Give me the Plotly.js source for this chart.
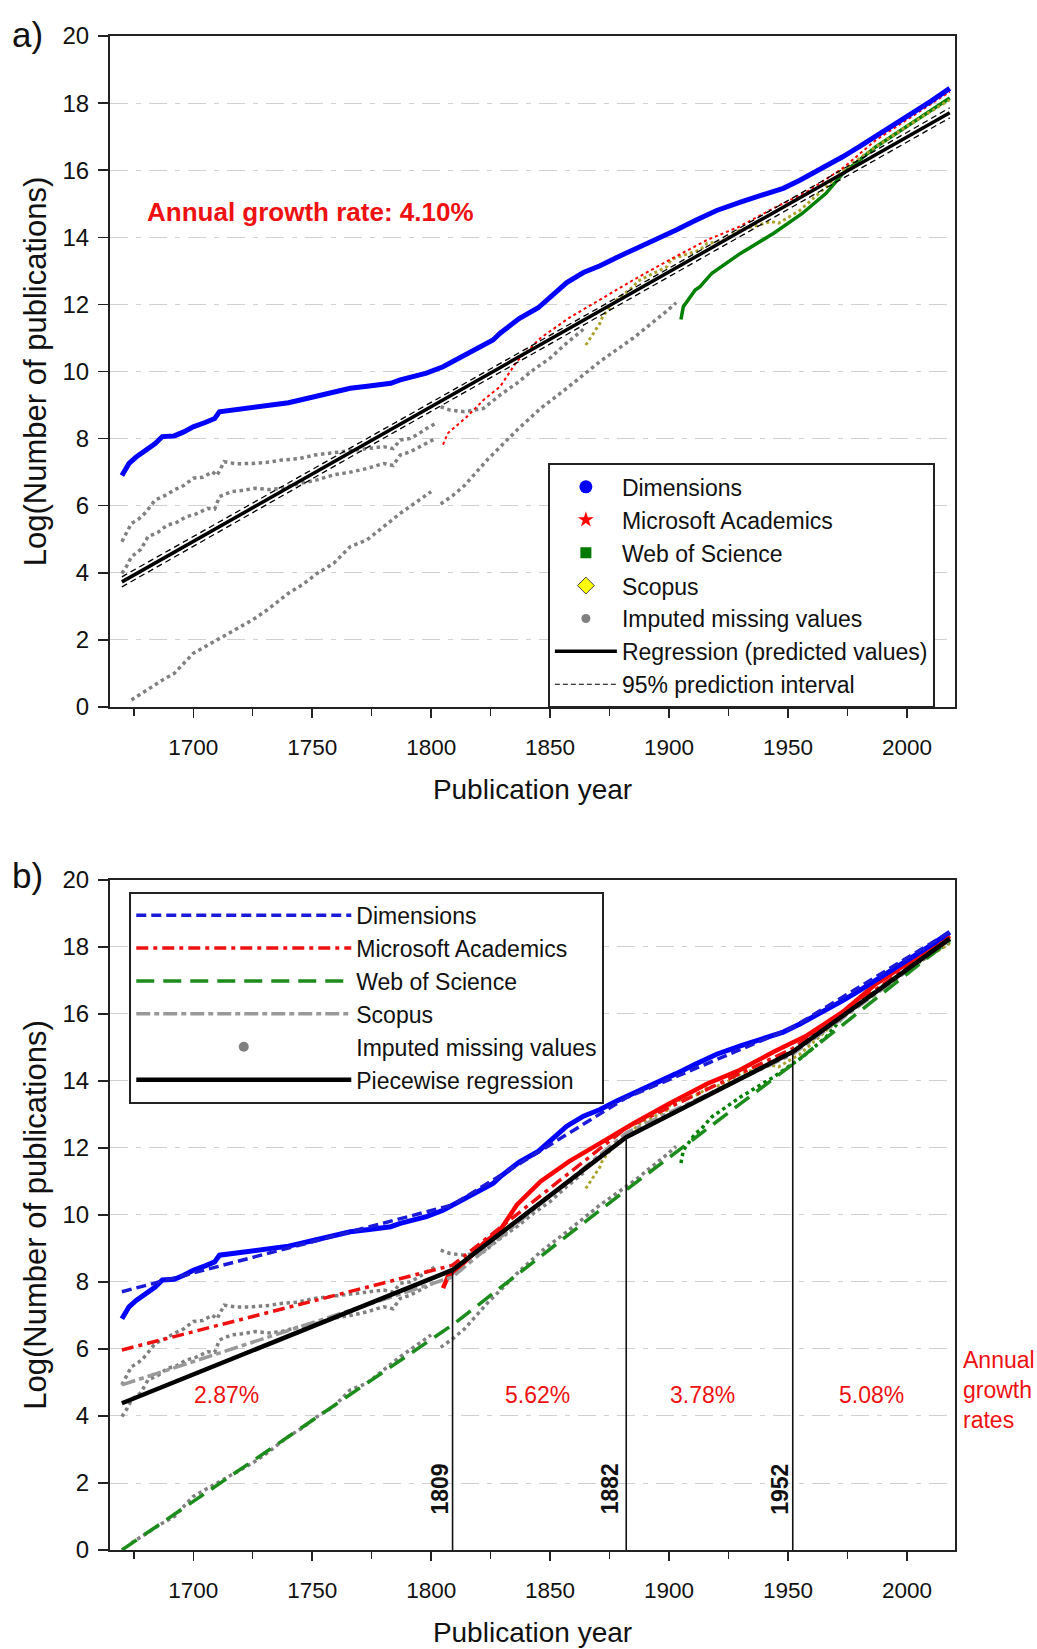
<!DOCTYPE html>
<html><head><meta charset="utf-8">
<script src="https://cdn.plot.ly/plotly-3.0.1.min.js"></script>
<style>html,body{margin:0;padding:0;background:#fff}#chart{width:1037px;height:1649px}</style>
</head><body><div id="chart"></div>
<script>
// ---------- data ----------
const dimYears = [1670,1673,1676,1680,1684,1687,1692,1696,1700,1705,1709,1711,1720,1730,1740,1745,1755,1766,1774,1783,1787,1791,1798,1805,1813,1822,1826,1829,1837,1845,1851,1857,1864,1871,1878,1885,1893,1903,1911,1920,1930,1940,1948,1955,1963,1973,1980,1990,2002,2010,2018];
const dimValues = [6.9,7.26,7.45,7.66,7.85,8.06,8.08,8.2,8.35,8.48,8.6,8.8,8.88,8.97,9.07,9.15,9.3,9.5,9.57,9.65,9.75,9.82,9.95,10.14,10.45,10.76,10.94,11.14,11.58,11.9,12.3,12.65,12.95,13.15,13.4,13.62,13.9,14.22,14.5,14.8,15.05,15.28,15.46,15.7,16.0,16.4,16.7,17.15,17.65,18.05,18.44];

const maYears = [1805,1807,1815,1822,1829,1836,1846,1858,1870,1885,1900,1916,1929,1944,1958,1973,1987,2002,2018];
const maValues = [7.82,8.16,8.65,9.15,9.55,10.3,11.0,11.6,12.1,12.73,13.32,13.92,14.3,14.87,15.36,16.06,16.9,17.6,18.34];

const wosYears = [1905,1906,1911,1913,1918,1922,1930,1944,1956,1966,1973,1987,2002,2018];
const wosValues = [11.55,11.93,12.43,12.53,12.93,13.12,13.52,14.12,14.71,15.31,15.9,16.7,17.4,18.15];

const scoYears = [1865,1871,1872,1877,1885,1887,1899,1901,1913,1916,1922,1930,1943,1946,1955,1966,1973,1987,2002,2018];
const scoValues = [10.79,11.44,11.63,12.08,12.53,12.7,13.12,13.35,13.62,13.82,13.87,14.22,14.47,14.42,14.8,15.5,16.0,16.7,17.4,18.1];

// imputed missing values (grey dots), several runs
const imp1Years = [1670,1672,1674,1677,1680,1684,1688,1692,1696,1700,1704,1708,1710,1713,1718,1725,1732,1737,1744,1751,1759,1766,1773,1780,1784,1787,1791,1794,1798,1802];
const imp1Values = [4.93,5.2,5.47,5.6,5.8,6.17,6.3,6.47,6.6,6.82,6.85,7.01,6.9,7.31,7.25,7.26,7.3,7.36,7.4,7.51,7.58,7.66,7.7,7.76,7.7,7.96,8.0,8.11,8.3,8.46];
const imp2Years = [1670,1672,1674,1678,1681,1685,1689,1693,1697,1701,1706,1709,1711,1716,1720,1726,1732,1737,1744,1752,1759,1766,1773,1780,1784,1787,1791,1794,1798,1802];
const imp2Values = [3.98,4.2,4.48,4.7,5.08,5.2,5.42,5.5,5.67,5.75,5.92,5.9,6.27,6.42,6.45,6.52,6.48,6.52,6.65,6.77,6.92,7.0,7.11,7.26,7.2,7.51,7.6,7.71,7.85,8.01];
const imp2bYears = [1804,1808,1814,1818,1822,1829,1836,1843,1850,1857,1864];
const imp2bValues = [8.95,8.85,8.8,8.85,8.9,9.3,9.65,10.05,10.4,10.85,11.26];
const imp3Years = [1674,1678,1682,1687,1692,1696,1700,1705,1710,1715,1720,1725,1731,1735,1740,1746,1752,1759,1766,1773,1780,1787,1794,1800];
const imp3Values = [0.21,0.4,0.56,0.8,1.0,1.3,1.6,1.8,2.0,2.2,2.39,2.6,2.89,3.1,3.39,3.65,3.98,4.28,4.78,4.98,5.37,5.77,6.12,6.42];
const imp3bYears = [1804,1809,1814,1819,1824,1829,1836,1846,1857,1871,1885,1899,1903];
const imp3bValues = [6.05,6.3,6.6,7.0,7.4,7.75,8.25,8.9,9.5,10.3,11.0,11.8,12.05];

// panel a: linear regression and 95% prediction interval
const regYears = [1670,2018];
const regValues = [3.73,17.71];
const piYears = [1670,1720,1780,1840,1900,1960,2018];
const piUpper = [3.88,5.88,8.27,10.68,13.08,15.5,17.86];
const piLower = [3.58,5.6,8.01,10.42,12.82,15.22,17.56];

// panel b: piecewise regressions (breakpoints)
const breakYears = [1670,1809,1882,1952,2018];
const pwDim = [7.71,10.3,13.5,15.6,18.45];
const pwMA  = [5.97,8.5,12.6,14.97,18.3];
const pwWoS = [0.0,6.72,10.75,14.5,18.2];
const pwSco = [4.93,8.15,12.45,14.8,18.2];
const pwAll = [4.38,8.36,12.32,14.87,18.25];
const rateLabels = ['2.87%','5.62%','3.78%','5.08%'];

// ---------- styling ----------
const FONT = '"Liberation Sans", Arial, sans-serif';
const BLUE='#0000ff', RED='#ff0000', GREEN='#008000', GREY='#808080', OLIVE='#aaa22a';
const traces = [];

function line(x,y,xa,ya,style,extra){
  return Object.assign({type:'scatter',mode:'lines',x:x,y:y,xaxis:xa,yaxis:ya,line:style,showlegend:false,hoverinfo:'skip'},extra||{});
}
const impSets = [[imp1Years,imp1Values],[imp2Years,imp2Values],[imp2bYears,imp2bValues],[imp3Years,imp3Values],[imp3bYears,imp3bValues]];

// ---- panel a ----
impSets.forEach(s=>traces.push(line(s[0],s[1],'x','y',{color:GREY,width:3.5,dash:'dot'})));
traces.push(line(wosYears,wosValues,'x','y',{color:GREEN,width:3.5}));
traces.push(line(scoYears,scoValues,'x','y',{color:OLIVE,width:3,dash:'dot'}));
traces.push(line(maYears,maValues,'x','y',{color:RED,width:2,dash:'dot'}));
traces.push(line(dimYears,dimValues,'x','y',{color:BLUE,width:5}));
traces.push(line(regYears,regValues,'x','y',{color:'#000',width:3.5}));
traces.push(line(piYears,piUpper,'x','y',{color:'#000',width:1.3,dash:'6px,4px'}));
traces.push(line(piYears,piLower,'x','y',{color:'#000',width:1.3,dash:'6px,4px'}));

// legend a entries
function proxy(name,marker,leg,rank,lineStyle){
  const t={type:'scatter',x:[null],y:[null],name:name,showlegend:true,legend:leg,legendrank:rank,hoverinfo:'skip'};
  if(marker){t.mode='markers';t.marker=marker;} else {t.mode='lines';t.line=lineStyle;}
  return t;
}
traces.push(proxy('Dimensions',{symbol:'circle',color:BLUE,size:13},'legend',1));
traces.push(proxy('Microsoft Academics',{symbol:'star',color:RED,size:12},'legend',2));
traces.push(proxy('Web of Science',{symbol:'square',color:'#007a00',size:11},'legend',3));
traces.push(proxy('Scopus',{symbol:'diamond',color:'#ffff00',size:13,line:{color:'#444',width:1}},'legend',4));
traces.push(proxy('Imputed missing values',{symbol:'circle',color:GREY,size:9},'legend',5));
traces.push(proxy('Regression (predicted values)',null,'legend',6,{color:'#000',width:3.5}));
traces.push(proxy('95% prediction interval',null,'legend',7,{color:'#000',width:1.2,dash:'5px,3px'}));

// ---- panel b ----
impSets.forEach(s=>traces.push(line(s[0],s[1],'x2','y2',{color:GREY,width:3.5,dash:'dot'})));
traces.push(line(wosYears,wosValues,'x2','y2',{color:GREEN,width:3.5,dash:'dot'}));
traces.push(line(scoYears,scoValues,'x2','y2',{color:OLIVE,width:3,dash:'dot'}));
traces.push(line(maYears,maValues,'x2','y2',{color:RED,width:4.5}));
traces.push(line(dimYears,dimValues,'x2','y2',{color:BLUE,width:5}));
traces.push(line(breakYears,pwSco,'x2','y2',{color:'#999999',width:3.5,dash:'14px,4px,5px,4px'},{showlegend:true,legend:'legend2',legendrank:4,name:'Scopus'}));
traces.push(line(breakYears,pwWoS,'x2','y2',{color:'#1c8c1c',width:3.5,dash:'18px,9px'},{showlegend:true,legend:'legend2',legendrank:3,name:'Web of Science'}));
traces.push(line(breakYears,pwMA,'x2','y2',{color:'#ee1111',width:3.5,dash:'12px,5px,4px,5px'},{showlegend:true,legend:'legend2',legendrank:2,name:'Microsoft Academics'}));
traces.push(line(breakYears,pwDim,'x2','y2',{color:'#1a1ad8',width:3.5,dash:'10px,5px'},{showlegend:true,legend:'legend2',legendrank:1,name:'Dimensions'}));
traces.push(proxy('Imputed missing values',{symbol:'circle',color:GREY,size:10},'legend2',5));
traces.push(line(breakYears,pwAll,'x2','y2',{color:'#000',width:4.5},{showlegend:true,legend:'legend2',legendrank:6,name:'Piecewise regression'}));
// vertical lines at the inner breakpoints, from 0 up to the piecewise fit
const vx=[], vy=[];
for(let i=1;i<breakYears.length-1;i++){ vx.push(breakYears[i],breakYears[i],null); vy.push(0,pwAll[i],null); }
traces.push(line(vx,vy,'x2','y2',{color:'#111',width:1.6}));

// ---------- layout ----------
function xax(anchor){ return {
  domain:[0,1], anchor:anchor, range:[1665,2020.2], tickmode:'linear', tick0:1700, dtick:50,
  ticks:'outside', ticklen:9, tickwidth:1.5, tickcolor:'#222',
  minor:{tickmode:'linear', tick0:1700, dtick:25, ticks:'outside', ticklen:7, tickwidth:1.5, tickcolor:'#222', showgrid:false},
  showline:true, linecolor:'#222', linewidth:2, mirror:true, showgrid:false, zeroline:false,
  tickfont:{family:FONT,size:22.5,color:'#111'}, ticklabelstandoff:10,
  title:{text:'Publication year', font:{family:FONT,size:28,color:'#111'}, standoff:20}
};}
function yax(domain,anchor){ return {
  domain:domain, anchor:anchor, range:[0,20], tickmode:'linear', tick0:0, dtick:2,
  ticks:'outside', ticklen:10, tickwidth:1.5, tickcolor:'#222',
  showline:true, linecolor:'#222', linewidth:2, mirror:true,
  showgrid:true, gridcolor:'#d0d0d0', gridwidth:1, griddash:'18px,8px,5px,8px', zeroline:false,
  tickfont:{family:FONT,size:24,color:'#111'}, ticklabelstandoff:4,
  title:{text:'Log(Number of publications)', font:{family:FONT,size:31,color:'#111'}, standoff:7}
};}

const legendBase = {xanchor:'left', yanchor:'top', bgcolor:'#ffffff', bordercolor:'#222', borderwidth:2,
  font:{family:FONT,size:23,color:'#111'}, tracegroupgap:0, traceorder:'normal'};

const annotations = [
  {xref:'paper',yref:'paper',x:-0.0976,y:1.0013,text:'a)',showarrow:false,xanchor:'center',yanchor:'middle',font:{family:FONT,size:35,color:'#111'}},
  {xref:'paper',yref:'paper',x:-0.0976,y:0.4452,text:'b)',showarrow:false,xanchor:'center',yanchor:'middle',font:{family:FONT,size:35,color:'#111'}},
  {xref:'x',yref:'y',x:1679.7,y:14.75,text:'<b>Annual growth rate: 4.10%</b>',showarrow:false,xanchor:'left',yanchor:'middle',font:{family:FONT,size:26,color:'#ee1111'}},
  {xref:'paper',yref:'y2',x:1.0069,y:4.78,text:'Annual<br>growth<br>rates',showarrow:false,xanchor:'left',yanchor:'middle',align:'left',font:{family:FONT,size:23,color:'#ee1111'}}
];
const rateX = [1714,1844.8,1914.2,1985.2];
rateLabels.forEach((t,i)=>annotations.push({xref:'x2',yref:'y2',x:rateX[i],y:4.63,text:t,showarrow:false,xanchor:'center',yanchor:'middle',font:{family:FONT,size:23,color:'#ee1111'}}));
const breakShift = [-13,-16,-13];
for(let i=1;i<breakYears.length-1;i++){
  annotations.push({xref:'x2',yref:'y2',x:breakYears[i],y:1.82,xshift:breakShift[i-1],text:'<b>'+breakYears[i]+'</b>',textangle:-90,showarrow:false,xanchor:'center',yanchor:'middle',font:{family:FONT,size:23,color:'#111'}});
}

const layout = {
  width:1037, height:1649, paper_bgcolor:'#fff', plot_bgcolor:'#fff',
  margin:{l:110,r:82,t:36,b:99},
  font:{family:FONT,color:'#111'},
  xaxis:xax('y'), yaxis:yax([0.5568,1],'x'),
  xaxis2:xax('y2'), yaxis2:yax([0,0.44254],'x2'),
  legend:Object.assign({},legendBase,{x:0.5182,y:0.7177,itemwidth:62}),
  legend2:Object.assign({},legendBase,{x:0.0228,y:0.4348,itemwidth:215}),
  annotations:annotations,
  showlegend:true
};
Plotly.newPlot('chart',traces,layout,{staticPlot:true,displayModeBar:false});
</script></body></html>
